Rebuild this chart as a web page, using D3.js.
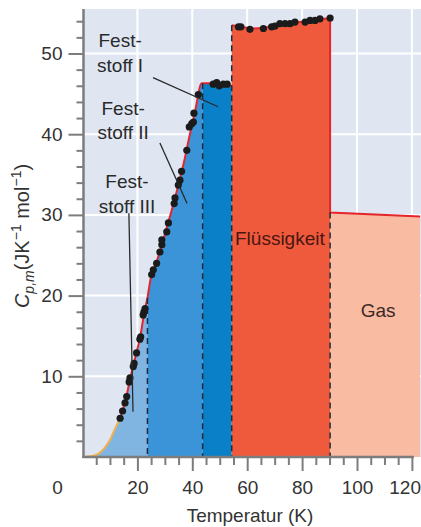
<!DOCTYPE html>
<html>
<head>
<meta charset="utf-8">
<script src="https://cdn.jsdelivr.net/npm/d3@7"></script>
<style>
  body { margin: 0; background: #fff; }
  svg { display: block; font-family: "Liberation Sans", Arial, sans-serif; }
</style>
</head>
<body>
<svg id="chart" width="421" height="527"></svg>
<script>
// phase transition temperatures (K)
const tIII = 23.66, tII = 43.76, tMelt = 54.36, tBoil = 90.2;

// smooth fitted curves [T, Cp]
const debyeCurve = [[0, 0], [4, 0.15], [6, 0.45], [8, 1.1], [10, 2.1], [12, 3.6], [13.7, 4.8]];
const solidIIICurve = [[13.7, 4.8], [15, 6.2], [16, 7.5], [17, 9.1], [18, 10.6], [19, 12.0], [20, 13.4], [21, 14.8], [22, 16.9], [23, 18.7], [23.66, 19.7]];
const solidIICurve = [[23.66, 19.7], [25, 22.4], [27, 24.2], [29, 26.4], [31, 28.8], [33, 31.2], [35, 33.8], [37, 36.6], [39, 39.8], [41, 42.8], [43.4, 46.3], [43.76, 46.3]];
const solidICurve = [[43.76, 46.3], [46, 46.3], [50, 46.2], [54.36, 46.0]];
const liquidCurve = [[54.36, 53.5], [58, 53.3], [62, 53.1], [66, 53.2], [70, 53.4], [76, 53.8], [82, 54.0], [86, 54.2], [90.2, 54.4]];
const gasCurve = [[90.2, 30.3], [123, 29.8]];

// measured points [T, Cp]
const pointsIII = [[13.7, 4.8], [14.6, 5.7], [15.5, 6.7], [16.1, 7.5], [17.0, 9.3], [17.3, 9.8], [18.5, 11.2], [18.8, 11.6], [19.7, 12.9], [20.9, 14.6], [21.2, 14.9], [22.1, 17.6], [22.4, 18.0], [22.8, 18.4]];
const pointsII = [[25.2, 22.6], [25.8, 23.2], [27.0, 24.0], [28.2, 25.4], [28.9, 26.3], [28.9, 26.9], [30.7, 27.9], [31.3, 29.0], [33.4, 31.4], [33.7, 32.1], [34.9, 33.7], [35.5, 34.3], [36.1, 35.4], [38.0, 38.0], [38.9, 40.9], [39.8, 41.3], [40.4, 41.5], [40.6, 42.6], [42.2, 44.9]];
const pointsI = [[47.6, 46.2], [48.9, 46.4], [49.8, 46.0], [51.3, 46.2], [52.7, 46.2]];
const pointsLiquid = [[56.8, 53.3], [57.7, 53.3], [61.0, 53.0], [65.9, 53.1], [68.9, 53.3], [70.1, 53.4], [71.9, 53.7], [73.8, 53.7], [75.6, 53.7], [77.4, 53.9], [81.1, 53.9], [82.9, 54.1], [84.7, 54.1], [86.5, 54.3], [90.2, 54.4]];

const xTicks = [20, 40, 60, 80, 100, 120];
const yTicks = [10, 20, 30, 40, 50];

// label texts: [lines, T, Cp of first baseline] and leader lines [T1, Cp1, T2, Cp2]
const phaseLabels = [
  { lines: ["Fest-", "stoff I"], t: 13.7, cp: 50.8 },
  { lines: ["Fest-", "stoff II"], t: 14.8, cp: 42.4 },
  { lines: ["Fest-", "stoff III"], t: 16.2, cp: 33.3 }
];
const leaders = [[25.7, 47.0, 49.4, 43.4], [28.2, 38.9, 38.1, 31.4], [16.9, 30.2, 18.4, 5.6]];

const svg = d3.select("#chart");
const W = 421;

const x = d3.scaleLinear().domain([0, 120]).range([82.5, 411.9]);
const y = d3.scaleLinear().domain([0, 50]).range([457, 53.5]);
const plotTop = 9;

// plot background
svg.append("rect")
  .attr("x", x(0)).attr("y", plotTop)
  .attr("width", W - x(0)).attr("height", y(0) - plotTop)
  .attr("fill", "#dfe6f2");

// grid
svg.append("g").selectAll("line").data(xTicks).join("line")
  .attr("x1", d => x(d)).attr("x2", d => x(d))
  .attr("y1", plotTop).attr("y2", y(0))
  .attr("stroke", "#fff").attr("stroke-width", 2);
svg.append("g").selectAll("line").data(yTicks).join("line")
  .attr("x1", x(0)).attr("x2", W)
  .attr("y1", d => y(d)).attr("y2", d => y(d))
  .attr("stroke", "#fff").attr("stroke-width", 2);

const area = d3.area()
  .x(d => x(d[0])).y0(y(0)).y1(d => y(d[1]))
  .curve(d3.curveMonotoneX);

svg.append("path").datum(debyeCurve.concat(solidIIICurve.slice(1)))
  .attr("fill", "#80b5e2").attr("d", area);
svg.append("path").datum(solidIICurve)
  .attr("fill", "#3b94d8").attr("d", area);
svg.append("path").datum(solidICurve)
  .attr("fill", "#0a80c8").attr("d", area);
svg.append("path").datum(liquidCurve)
  .attr("fill", "#ef5a3d").attr("d", area);
svg.append("path").datum(gasCurve)
  .attr("fill", "#f9bba1").attr("d", d3.area().x(d => x(d[0])).y0(y(0)).y1(d => y(d[1])));

const line = d3.line().x(d => x(d[0])).y(d => y(d[1])).curve(d3.curveMonotoneX);

// curves
svg.append("path").datum(debyeCurve)
  .attr("fill", "none").attr("stroke", "#f0b04c").attr("stroke-width", 2).attr("d", line);
[solidIIICurve, solidIICurve, solidICurve, liquidCurve].forEach(c => {
  svg.append("path").datum(c)
    .attr("fill", "none").attr("stroke", "#e3262b").attr("stroke-width", 2).attr("d", line);
});
svg.append("path").datum([liquidCurve[liquidCurve.length - 1], gasCurve[0], gasCurve[1]])
  .attr("fill", "none").attr("stroke", "#e3262b").attr("stroke-width", 2)
  .attr("d", d3.line().x(d => x(d[0])).y(d => y(d[1])));

// transition dashed lines
const dashTops = [[tIII, solidIIICurve[solidIIICurve.length - 1][1]], [tII, solidICurve[0][1]], [tMelt, liquidCurve[0][1]], [tBoil, gasCurve[0][1]]];
svg.append("g").selectAll("line").data(dashTops).join("line")
  .attr("x1", d => x(d[0])).attr("x2", d => x(d[0]))
  .attr("y1", d => y(d[1])).attr("y2", y(0))
  .attr("stroke", "#1f2a3a").attr("stroke-width", 1.5)
  .attr("stroke-dasharray", "6,4");

// data points
svg.append("g").selectAll("circle")
  .data(pointsIII.concat(pointsII, pointsI, pointsLiquid)).join("circle")
  .attr("cx", d => x(d[0])).attr("cy", d => y(d[1]))
  .attr("r", 3.6).attr("fill", "#1b1b1b");

// axes
const axisColor = "#7d7d7d";
const yMinor = d3.range(2, 56, 2).filter(d => d % 10 !== 0);
const xMinor = d3.range(5, 120, 5).filter(d => d % 20 !== 0);

const gy = svg.append("g").attr("transform", `translate(${x(0) + 1},0)`);
gy.call(d3.axisLeft(y).tickValues(yMinor).tickSize(7).tickFormat(""));
gy.call(g => g.select(".domain").remove());
const gy2 = svg.append("g").attr("transform", `translate(${x(0) + 1},0)`)
  .call(d3.axisLeft(y).tickValues(yTicks).tickSize(15).tickPadding(6));
gy2.select(".domain").remove();

const gx = svg.append("g").attr("transform", `translate(0,${y(0)})`);
gx.call(d3.axisBottom(x).tickValues(xMinor).tickSize(8).tickFormat(""));
gx.select(".domain").remove();
const gx2 = svg.append("g").attr("transform", `translate(0,${y(0)})`)
  .call(d3.axisBottom(x).tickValues(xTicks).tickSize(14).tickPadding(10));
gx2.select(".domain").remove();

svg.selectAll(".tick line").attr("stroke", axisColor).attr("stroke-width", 2);
svg.selectAll(".tick text").attr("fill", "#333").style("font-size", "19px");
// last label sits against the right edge
gx2.selectAll(".tick text").filter(d => d === 120)
  .attr("text-anchor", "end").attr("x", W - x(120) - 0.5);

svg.append("line")
  .attr("x1", x(0) + 1).attr("x2", x(0) + 1).attr("y1", plotTop).attr("y2", y(0) + 1)
  .attr("stroke", axisColor).attr("stroke-width", 2.5);
svg.append("line")
  .attr("x1", x(0)).attr("x2", x(120) + 2).attr("y1", y(0)).attr("y2", y(0))
  .attr("stroke", axisColor).attr("stroke-width", 2.5);

// origin label
svg.append("text")
  .attr("x", x(0) - 25).attr("y", y(0) + 24).attr("dy", "0.71em")
  .attr("text-anchor", "middle").attr("fill", "#333").style("font-size", "19px")
  .text("0");

// axis titles
svg.append("text")
  .attr("x", 250).attr("y", 522)
  .attr("text-anchor", "middle").attr("fill", "#333").style("font-size", "19px")
  .text("Temperatur (K)");

const yl = svg.append("text")
  .attr("transform", "translate(29,236) rotate(-90)")
  .attr("text-anchor", "middle").attr("fill", "#333").style("font-size", "20px");
yl.append("tspan").style("font-style", "italic").text("C");
yl.append("tspan").attr("dy", 5).style("font-style", "italic").style("font-size", "14px").text("p,m");
yl.append("tspan").attr("dy", -5).text("(JK");
yl.append("tspan").attr("dy", -8).style("font-size", "14px").text("−1");
yl.append("tspan").attr("dy", 8).text(" mol");
yl.append("tspan").attr("dy", -8).style("font-size", "14px").text("−1");
yl.append("tspan").attr("dy", 8).text(")");

// phase labels
phaseLabels.forEach(l => {
  const t = svg.append("text")
    .attr("text-anchor", "middle").attr("fill", "#2a2a2a").style("font-size", "19px");
  l.lines.forEach((s, i) => {
    t.append("tspan").attr("x", x(l.t)).attr("y", y(l.cp) + i * 24.5).text(s);
  });
});
svg.append("g").selectAll("line").data(leaders).join("line")
  .attr("x1", d => x(d[0])).attr("y1", d => y(d[1]))
  .attr("x2", d => x(d[2])).attr("y2", d => y(d[3]))
  .attr("stroke", "#2a2a2a").attr("stroke-width", 1.3);

svg.append("text")
  .attr("x", x(71.9)).attr("y", y(26.3))
  .attr("text-anchor", "middle").attr("fill", "#4a1610").style("font-size", "19px")
  .text("Flüssigkeit");
svg.append("text")
  .attr("x", x(107.7)).attr("y", y(17.3))
  .attr("text-anchor", "middle").attr("fill", "#3a2a26").style("font-size", "19px")
  .text("Gas");
</script>
</body>
</html>
